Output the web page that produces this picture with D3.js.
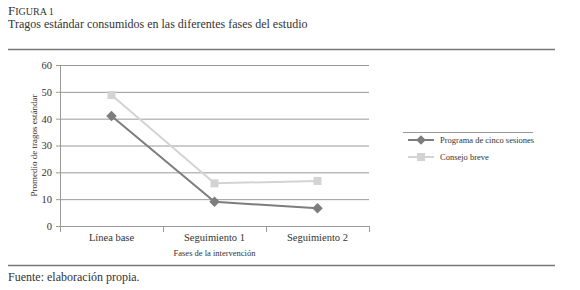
<!DOCTYPE html>
<html>
<head>
<meta charset="utf-8">
<script src="https://cdn.jsdelivr.net/npm/d3@7"></script>
<style>
  body { margin: 0; background: #fff; overflow: hidden; }
  svg text { font-family: "Liberation Serif", "DejaVu Serif", serif; fill: #333; }
</style>
</head>
<body>
<div class="chart"></div>
<script>
const width = 580
const height = 290
const margin = { top: 65, left: 60 }
const innerWidth = 309
const innerHeight = 161

const phases = ["Línea base", "Seguimiento 1", "Seguimiento 2"]
const programa = [41, 9, 6.6]
const consejo = [48.8, 15.9, 16.8]
const yTicks = [0, 10, 20, 30, 40, 50, 60]

const svg = d3.select(".chart")
    .append("svg")
    .attr("width", width)
    .attr("height", height)
    .style("display", "block")

// header
svg.append("text")
    .attr("x", 8).attr("y", 15)
    .style("font-size", "13px")
    .text("F")
    .append("tspan").style("font-size", "10px").text("IGURA 1")

svg.append("text")
    .attr("x", 8).attr("y", 28)
    .style("font-size", "12px")
    .text("Tragos estándar consumidos en las diferentes fases del estudio")

svg.append("line")
    .attr("x1", 8).attr("x2", 555).attr("y1", 49.5).attr("y2", 49.5)
    .attr("stroke", "#777").attr("stroke-width", 1.5)

svg.append("line")
    .attr("x1", 8).attr("x2", 555).attr("y1", 265.5).attr("y2", 265.5)
    .attr("stroke", "#777").attr("stroke-width", 1.5)

svg.append("text")
    .attr("x", 8).attr("y", 281)
    .style("font-size", "12px")
    .text("Fuente: elaboración propia.")

const g = svg.append("g")
    .attr("transform", "translate(" + margin.left + "," + margin.top + ")")

const xScale = d3.scaleBand()
    .domain(phases)
    .range([0, innerWidth])

const yScale = d3.scaleLinear()
    .domain([0, 60])
    .range([innerHeight, 0])

const yAxis = d3.axisLeft(yScale)
    .tickValues(yTicks)
    .tickSize(-innerWidth)
    .tickPadding(8)

const yG = g.append("g").call(yAxis).attr("font-family", null)
yG.select(".domain").remove()
yG.selectAll(".tick line").attr("stroke", "#999").attr("x1", -4)
yG.selectAll(".tick text").style("font-size", "10.5px").attr("fill", "#333")

const xAxis = d3.axisBottom(xScale)
    .tickSize(0)
    .tickPadding(8)

const xG = g.append("g")
    .attr("transform", "translate(0," + innerHeight + ")")
    .call(xAxis)
    .attr("font-family", null)
xG.select(".domain").remove()
xG.selectAll(".tick text").style("font-size", "10.5px").attr("fill", "#333")

// category boundaries on x axis
const bounds = [0].concat(phases.map(p => xScale(p) + xScale.bandwidth()))
g.selectAll(".xb")
    .data(bounds)
    .join("line")
    .attr("x1", d => d + 0.5).attr("x2", d => d + 0.5)
    .attr("y1", innerHeight).attr("y2", innerHeight + 6)
    .attr("stroke", "#999")

g.append("line")
    .attr("x1", 0.5).attr("x2", 0.5).attr("y1", 0).attr("y2", innerHeight)
    .attr("stroke", "#999")
g.append("line")
    .attr("x1", 0).attr("x2", innerWidth).attr("y1", innerHeight + 0.5).attr("y2", innerHeight + 0.5)
    .attr("stroke", "#999")

svg.append("text")
    .attr("x", margin.left + innerWidth / 2).attr("y", 256)
    .attr("text-anchor", "middle")
    .style("font-size", "8.5px")
    .text("Fases de la intervención")

svg.append("text")
    .attr("transform", "translate(37," + (margin.top + innerHeight / 2) + ") rotate(-90)")
    .attr("text-anchor", "middle")
    .style("font-size", "9px")
    .text("Promedio de tragos estándar")

const cx = i => xScale(phases[i]) + xScale.bandwidth() / 2

const line = d3.line()
    .x((d, i) => cx(i))
    .y(d => yScale(d))

const darkC = "#7d7d7d"
const lightC = "#d3d3d3"

g.append("path")
    .attr("d", line(consejo))
    .attr("fill", "none").attr("stroke", lightC).attr("stroke-width", 2)
g.selectAll(".sq")
    .data(consejo)
    .join("rect")
    .attr("x", (d, i) => cx(i) - 4).attr("y", d => yScale(d) - 4)
    .attr("width", 8).attr("height", 8)
    .attr("fill", lightC)

g.append("path")
    .attr("d", line(programa))
    .attr("fill", "none").attr("stroke", darkC).attr("stroke-width", 2)
g.selectAll(".dm")
    .data(programa)
    .join("path")
    .attr("d", d3.symbol(d3.symbolDiamond2, 70))
    .attr("transform", (d, i) => "translate(" + cx(i) + "," + yScale(d) + ")")
    .attr("fill", darkC)

// legend
const legend = svg.append("g").attr("transform", "translate(403,132)")
legend.append("line")
    .attr("x1", 0).attr("x2", 130).attr("y1", 0.5).attr("y2", 0.5)
    .attr("stroke", "#999")

const items = [
    { name: "Programa de cinco sesiones", color: darkC, shape: "diamond" },
    { name: "Consejo breve", color: lightC, shape: "square" }
]
items.forEach((it, i) => {
    const row = legend.append("g").attr("transform", "translate(0," + (8 + i * 17) + ")")
    row.append("line")
        .attr("x1", 5).attr("x2", 31).attr("y1", 0).attr("y2", 0)
        .attr("stroke", it.color).attr("stroke-width", 2)
    if (it.shape === "diamond") {
        row.append("path")
            .attr("d", d3.symbol(d3.symbolDiamond2, 60))
            .attr("transform", "translate(18,0)")
            .attr("fill", it.color)
    } else {
        row.append("rect")
            .attr("x", 14).attr("y", -4).attr("width", 8).attr("height", 8)
            .attr("fill", it.color)
    }
    row.append("text")
        .attr("x", 37).attr("y", 3)
        .style("font-size", "8.5px")
        .text(it.name)
})
</script>
</body>
</html>
